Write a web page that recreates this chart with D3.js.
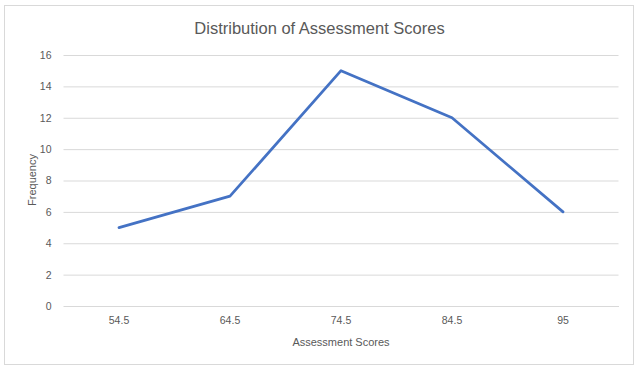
<!DOCTYPE html>
<html><head><meta charset="utf-8">
<script src="https://cdn.jsdelivr.net/npm/d3@7"></script>
<style>body{margin:0;background:#fff;} text{font-family:"Liberation Sans",Arial,sans-serif;fill:#595959;}</style>
</head><body><svg id="c" width="639" height="369"></svg>
<script>
const categories = ["54.5","64.5","74.5","84.5","95"];
const frequencies = [5,7,15,12,6];
const yTicks = [0,2,4,6,8,10,12,14,16];
const titleText = "Distribution of Assessment Scores";
const xTitle = "Assessment Scores";
const yTitle = "Frequency";

const svg = d3.select("#c");
svg.append("rect").attr("x",4.5).attr("y",5.5).attr("width",629).attr("height",359)
  .attr("fill","#fff").attr("stroke","#d9d9d9");

const m = {left:63.5,right:618.5,top:55,bottom:306};
const x = d3.scaleBand().domain(categories).range([m.left,m.right]);
const y = d3.scaleLinear().domain([0,16]).range([m.bottom,m.top]);

const grid = svg.append("g").attr("transform",`translate(${m.left},0)`)
  .call(d3.axisLeft(y).tickValues(yTicks).tickSize(-(m.right-m.left)).tickPadding(12).tickFormat(d3.format("d")));
grid.select(".domain").remove();
grid.selectAll("line").attr("stroke","#d9d9d9");
grid.selectAll("text").attr("font-size","10.5px").attr("fill","#595959");

const xa = svg.append("g").attr("transform",`translate(0,${m.bottom})`)
  .call(d3.axisBottom(x).tickSize(0).tickPadding(11));
xa.select(".domain").attr("stroke","#d9d9d9");
xa.selectAll("text").attr("font-size","10.5px").attr("fill","#595959");

const line = d3.line().x((d,i)=>x(categories[i])+x.bandwidth()/2).y(d=>y(d));
svg.append("path").datum(frequencies).attr("d",line).attr("fill","none")
  .attr("stroke","#4472C4").attr("stroke-width",2.75).attr("stroke-linejoin","round").attr("stroke-linecap","round");

svg.append("text").attr("x",319.5).attr("y",34).attr("text-anchor","middle").attr("font-size","16.5px").text(titleText);
svg.append("text").attr("x",341).attr("y",346).attr("text-anchor","middle").attr("font-size","11px").text(xTitle);
svg.append("text").attr("transform","translate(36,180) rotate(-90)").attr("text-anchor","middle").attr("font-size","11px").text(yTitle);
</script></body></html>
